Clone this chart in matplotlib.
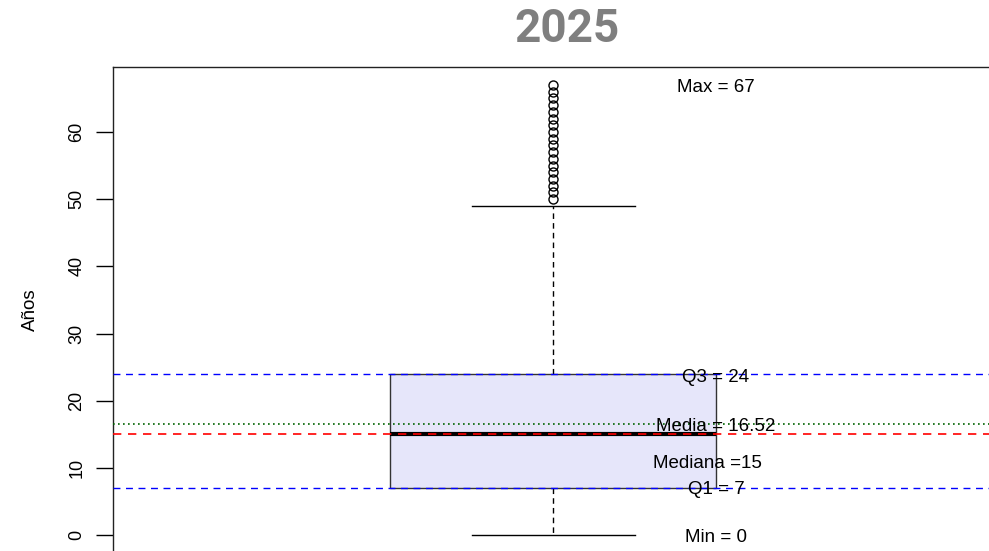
import matplotlib.pyplot as plt

# summary of the 2025 series (years)
q1, median, q3 = 7, 15, 24
whisker_lo, whisker_hi = 0, 49
mean_value = 16.52
min_value, max_value = 0, 67
outliers = [50, 51, 52, 53, 54, 55, 56, 57, 58, 59, 60, 61, 62, 63, 64, 65, 66, 67]
yticks = [0, 10, 20, 30, 40, 50, 60]

plt.rcParams['font.family'] = ['Liberation Sans', 'DejaVu Sans']

W, H = 989, 551
fig = plt.figure(figsize=(W / 100, H / 100), dpi=100)

# axes frame runs past the right and bottom edges (cropped R plot)
left, top, bottom = 113, 67, 553
px_per_unit = 407.5
xmin = 1 - (553 - left) / px_per_unit
xmax = 2.2
ax = fig.add_axes([left / W, 1 - bottom / H, (xmax - xmin) * px_per_unit / W, (bottom - top) / H])
ax.set_xlim(xmin, xmax)
ax.set_ylim(-2.68, 69.68)

stats = [{
    'med': median, 'q1': q1, 'q3': q3,
    'whislo': whisker_lo, 'whishi': whisker_hi,
    'fliers': outliers,
}]
ax.bxp(stats, positions=[1], widths=0.8, patch_artist=True, showfliers=True,
       boxprops=dict(facecolor='#E6E6FA', edgecolor='#333333', linewidth=1),
       whiskerprops=dict(color='black', linestyle=(0, (4, 3)), linewidth=1),
       capprops=dict(color='black', linewidth=1),
       capwidths=0.4,
       medianprops=dict(color='black', linewidth=3, solid_capstyle='butt'),
       flierprops=dict(marker='o', markersize=6.5, markerfacecolor='none',
                       markeredgecolor='black', markeredgewidth=1))

# reference lines (drawn over the box, as abline does in R)
ax.axhline(q3, color='blue', linestyle=(0, (5, 4)), linewidth=1, zorder=5)
ax.axhline(q1, color='blue', linestyle=(0, (5, 4)), linewidth=1, zorder=5)
ax.axhline(mean_value, color='darkgreen', linestyle=(0, (1, 2)), linewidth=1.2, zorder=5)
ax.axhline(median, color='red', linestyle=(0, (5, 4)), linewidth=1.2, zorder=5)

kw = dict(ha='center', va='center', fontsize=13.5, color='black', zorder=6)
ax.text(1.4, max_value - 0.3, f'Max = {max_value}', **kw)
ax.text(1.4, q3 - 0.5, f'Q3 = {q3}', **kw)
ax.text(1.4, mean_value - 0.3, f'Media = {mean_value}', **kw)
ax.text(1.38, median - 4.3, f'Mediana ={median}', **kw)
ax.text(1.4, q1 - 0.2, f'Q1 = {q1}', **kw)
ax.text(1.4, min_value - 0.4, f'Min = {min_value}', **kw)

ax.set_xticks([])
ax.set_yticks(yticks)
ax.set_yticklabels([str(v) for v in yticks], rotation=90, va='center', fontsize=13)
ax.tick_params(axis='y', length=12, width=1, pad=8)
for s in ax.spines.values():
    s.set_linewidth(1)
    s.set_color('#222222')

fig.text(30 / W, 1 - 310 / H, 'Años', rotation=90, ha='center', va='center', fontsize=13.5)
fig.text(567 / W, 1 - 29 / H, '2025', ha='center', va='center', fontsize=33,
         fontweight='bold', color='#7f7f7f', family=['Roboto', 'DejaVu Sans'])

fig.savefig('out.png', dpi=100)
